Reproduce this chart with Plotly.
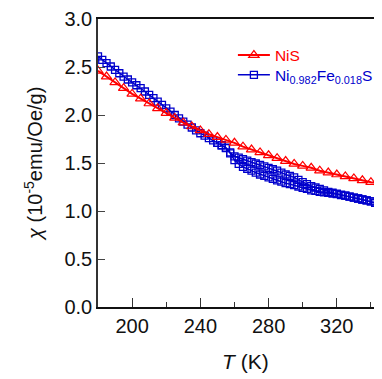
import plotly.graph_objects as go

# NiS (red, triangles)
nis_T = [180, 185, 190, 195, 200, 205, 210, 215, 220, 225, 230, 235, 240, 245, 250,
         255, 260, 265, 270, 275, 280, 285, 290, 295, 300, 305, 310, 315, 320, 325,
         330, 335, 340, 345, 350]
nis_chi = [2.46, 2.40, 2.34, 2.28, 2.22, 2.17, 2.12, 2.07, 2.02, 1.97, 1.92, 1.88, 1.84,
           1.80, 1.77, 1.74, 1.71, 1.67, 1.64, 1.61, 1.58, 1.55, 1.52, 1.49, 1.47, 1.45,
           1.42, 1.40, 1.38, 1.36, 1.34, 1.32, 1.30, 1.29, 1.27]

# Ni0.982Fe0.018S (blue, squares): upper sweep 180 -> 350
fe_up_T = [180, 182.5, 185, 187.5, 190, 192.5, 195, 197.5, 200, 202.5, 205, 207.5, 210,
           212.5, 215, 217.5, 220, 222.5, 225, 227.5, 230, 232.5, 235, 237.5, 240, 242.5,
           245, 247.5, 250, 252.5, 255, 257.5, 260, 262.5, 265, 267.5, 270, 272.5, 275,
           277.5, 280, 282.5, 285, 287.5, 290, 292.5, 295, 297.5, 300, 302.5, 305, 307.5,
           310, 312.5, 315, 317.5, 320, 322.5, 325, 327.5, 330, 332.5, 335, 337.5, 340,
           342.5, 345, 347.5, 350]
fe_up_chi = [2.61, 2.575, 2.54, 2.505, 2.47, 2.435, 2.40, 2.37, 2.34, 2.31, 2.28, 2.245,
             2.21, 2.175, 2.14, 2.105, 2.07, 2.035, 2.00, 1.965, 1.93, 1.90, 1.87, 1.84,
             1.81, 1.785, 1.76, 1.735, 1.71, 1.685, 1.66, 1.61, 1.57, 1.555, 1.54, 1.525,
             1.51, 1.495, 1.48, 1.465, 1.45, 1.435, 1.42, 1.40, 1.38, 1.365, 1.35, 1.325,
             1.30, 1.28, 1.26, 1.245, 1.23, 1.215, 1.20, 1.19, 1.18, 1.17, 1.16, 1.15,
             1.14, 1.13, 1.12, 1.11, 1.10, 1.085, 1.07, 1.055, 1.04]
# lower sweep 347.5 -> 250
fe_dn_T = [347.5, 345, 342.5, 340, 337.5, 335, 332.5, 330, 327.5, 325, 322.5, 320, 317.5,
           315, 312.5, 310, 307.5, 305, 302.5, 300, 297.5, 295, 292.5, 290, 287.5, 285,
           282.5, 280, 277.5, 275, 272.5, 270, 267.5, 265, 262.5, 260, 257.5, 255, 252.5,
           250]
fe_dn_chi = [1.055, 1.07, 1.085, 1.10, 1.11, 1.12, 1.13, 1.14, 1.15, 1.16, 1.165, 1.175,
             1.18, 1.19, 1.195, 1.20, 1.21, 1.215, 1.23, 1.24, 1.255, 1.27, 1.28, 1.29,
             1.305, 1.32, 1.335, 1.35, 1.365, 1.38, 1.40, 1.42, 1.44, 1.46, 1.49, 1.53,
             1.60, 1.655, 1.685, 1.71]

x_ticks = [200, 240, 280, 320]
x_minor = [220, 260, 300, 340]
y_ticks = [0.0, 0.5, 1.0, 1.5, 2.0, 2.5, 3.0]

RED = "#FF0000"
BLUE = "#0000CC"
FONT = "Liberation Sans, Arial, sans-serif"

# page body has an 8px margin: figure origin is at (8, 8) in the window.
# Plot area in window pixels: left 98, top 15, bottom 307 (height 292), width 284.
PLOT_LEFT, PLOT_W = 98, 284
PLOT_TOP, PLOT_H = 15, 292


def xpaper(win_x):
    return (win_x - PLOT_LEFT) / PLOT_W


def ypaper(win_y):
    return 1 - (win_y - PLOT_TOP) / PLOT_H


fig = go.Figure()
fig.add_trace(go.Scatter(
    x=fe_up_T + fe_dn_T, y=fe_up_chi + fe_dn_chi, mode="lines+markers",
    name="<span style='color:#0000CC'>Ni<sub>0.982</sub>Fe<sub>0.018</sub>S</span>",
    legend="legend2",
    line=dict(color=BLUE, width=1.5),
    marker=dict(symbol="square-open", size=7, color=BLUE, line=dict(width=1.3, color=BLUE)),
))
fig.add_trace(go.Scatter(
    x=nis_T, y=nis_chi, mode="lines+markers",
    name="<span style='color:#FF0000'>NiS</span>",
    legend="legend",
    line=dict(color=RED, width=2),
    marker=dict(symbol="triangle-up-open", size=9, color=RED, line=dict(width=1.2, color=RED)),
))

fig.update_layout(
    width=374, height=371, autosize=False,
    margin=dict(l=90, r=0, t=7, b=72),
    paper_bgcolor="white", plot_bgcolor="white",
    font=dict(family=FONT, size=20, color="#111"),
    showlegend=True,
    legend=dict(x=0.475, y=ypaper(52), xanchor="left", yanchor="middle",
                font=dict(size=15.5), bgcolor="rgba(0,0,0,0)", itemwidth=32),
    legend2=dict(x=0.475, y=ypaper(72), xanchor="left", yanchor="middle",
                 font=dict(size=15.5), bgcolor="rgba(0,0,0,0)", itemwidth=32),
    xaxis=dict(range=[180, 346.5], tickvals=x_ticks, ticks="inside", ticklen=9,
               tickcolor="#333", showline=True, linecolor="#111", linewidth=1.5,
               mirror=True, showgrid=False, zeroline=False,
               minor=dict(tickvals=x_minor, ticks="inside", ticklen=5, tickcolor="#333")),
    yaxis=dict(range=[0, 3.0], tickvals=y_ticks, tickformat=".1f", ticks="inside",
               ticklen=7, tickcolor="#444", showline=True, linecolor="#333", linewidth=1.5,
               showgrid=False, zeroline=False, ticklabeloverflow="allow"),
    annotations=[
        dict(text="<i>T</i> (K)", xref="paper", yref="paper", x=xpaper(245),
             y=ypaper(362), xanchor="center", yanchor="middle",
             showarrow=False, font=dict(size=21, family=FONT, color="#111")),
        dict(text="<i>χ</i> (10<sup>-5</sup>emu/Oe/g)", xref="paper", yref="paper",
             x=xpaper(34), y=ypaper(162), xanchor="center", yanchor="middle",
             textangle=-90, showarrow=False,
             font=dict(size=20, family=FONT, color="#111")),
    ],
)

fig.write_html("out.html")
